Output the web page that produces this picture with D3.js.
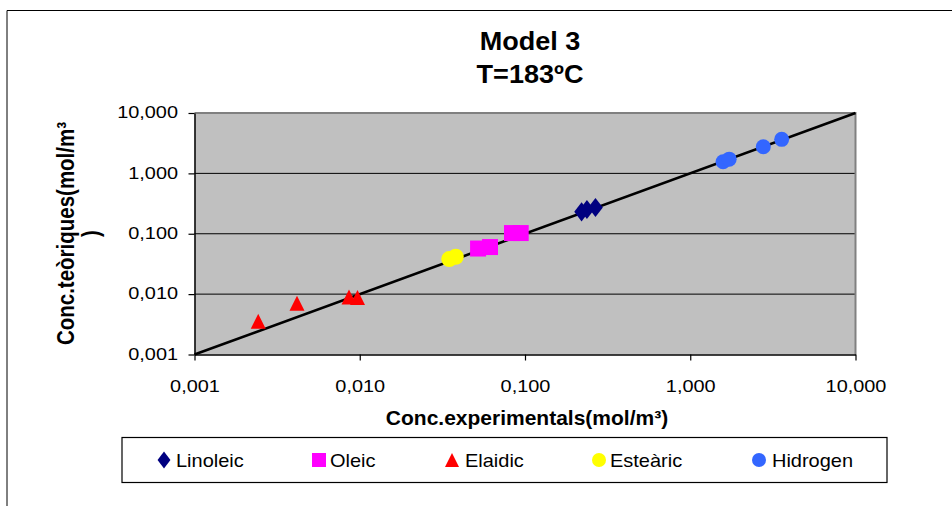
<!DOCTYPE html>
<html>
<head>
<meta charset="utf-8">
<script src="https://cdn.jsdelivr.net/npm/d3@7"></script>
<style>
  html, body { margin: 0; padding: 0; background: #ffffff; }
  svg { display: block; }
  text { font-family: "Liberation Sans", Arial, sans-serif; fill: #000; }
</style>
</head>
<body>
<svg id="chart" width="952" height="506"></svg>
<script>
// Axis ticks (log scale) and their printed labels
const tickValues = [0.001, 0.01, 0.1, 1, 10];
const tickLabels = ["0,001", "0,010", "0,100", "1,000", "10,000"];

// Series: experimental (x) vs theoretical (y) concentrations, mol/m³
const seriesNames = ["Linoleic", "Oleic", "Elaidic", "Esteàric", "Hidrogen"];
const linoleicX = [0.220, 0.237, 0.267];
const linoleicY = [0.231, 0.252, 0.272];
const oleicX = [0.052, 0.0614, 0.0834, 0.0942];
const oleicY = [0.0569, 0.0602, 0.1027, 0.1027];
const elaidicX = [0.00243, 0.00417, 0.00861, 0.00969];
const elaidicY = [0.00356, 0.00707, 0.00896, 0.0088];
const estearicX = [0.0348, 0.0381];
const estearicY = [0.0381, 0.0416];
const hidrogenX = [1.58, 1.72, 2.767, 3.575];
const hidrogenY = [1.56, 1.72, 2.757, 3.66];

// Reference line y = x across the full range
const refLine = [0.001, 10];

const colors = ["#000080", "#ff00ff", "#ff0000", "#ffff00", "#3366ff"];
const shapes = ["diamond", "square", "triangle", "circle", "circle"];
const xs = [linoleicX, oleicX, elaidicX, estearicX, hidrogenX];
const ys = [linoleicY, oleicY, elaidicY, estearicY, hidrogenY];

const svg = d3.select("#chart");

// Outer chart frame
svg.append("path")
  .attr("d", "M7,506 L7,10.5 L952,10.5")
  .attr("fill", "none").attr("stroke", "#000").attr("stroke-width", 1);

const plot = { left: 194.5, right: 855.5, top: 113, bottom: 354.5 };

const x = d3.scaleLog().domain([0.001, 10]).range([plot.left, plot.right]);
const y = d3.scaleLog().domain([0.001, 10]).range([plot.bottom, plot.top]);

// Plot area background
svg.append("rect")
  .attr("x", plot.left).attr("y", plot.top)
  .attr("width", plot.right - plot.left).attr("height", plot.bottom - plot.top)
  .attr("fill", "#c0c0c0");

// Horizontal gridlines at each decade
svg.append("g").selectAll("line")
  .data(tickValues.slice(1, -1))
  .join("line")
  .attr("x1", plot.left).attr("x2", plot.right)
  .attr("y1", d => y(d)).attr("y2", d => y(d))
  .attr("stroke", "#000").attr("stroke-width", 1);

// Plot border: grey top/right, black axes
svg.append("path")
  .attr("d", `M${plot.left},${plot.top} L${plot.right},${plot.top} L${plot.right},${plot.bottom}`)
  .attr("fill", "none").attr("stroke", "#808080").attr("stroke-width", 2);

function fmt(d) { return tickLabels[tickValues.indexOf(d)]; }

const xAxis = svg.append("g")
  .attr("transform", `translate(0,${plot.bottom})`)
  .call(d3.axisBottom(x).tickValues(tickValues).tickFormat(fmt).tickSize(6).tickSizeOuter(0));
const yAxis = svg.append("g")
  .attr("transform", `translate(${plot.left},0)`)
  .call(d3.axisLeft(y).tickValues(tickValues).tickFormat(fmt).tickSize(6).tickSizeOuter(0));

[xAxis, yAxis].forEach(a => {
  a.select(".domain").attr("stroke", "#000").attr("stroke-width", 1.5);
  a.selectAll(".tick line").attr("stroke", "#000").attr("stroke-width", 1.2);
  a.selectAll(".tick text").attr("font-size", 17).attr("font-family", "Liberation Sans, Arial, sans-serif").attr("fill", "#000");
});
// Tick labels are drawn slightly wide
xAxis.selectAll(".tick text")
  .attr("y", 0).attr("dy", 0)
  .attr("transform", "translate(0,37) scale(1.17,1)");
yAxis.selectAll(".tick text")
  .attr("x", 0).attr("dy", 0)
  .attr("transform", "translate(-16.5,4.8) scale(1.17,1)");

// Reference line
svg.append("line")
  .attr("x1", x(refLine[0])).attr("y1", y(refLine[0]))
  .attr("x2", x(refLine[1])).attr("y2", y(refLine[1]))
  .attr("stroke", "#000").attr("stroke-width", 2.6);

// Marker path generator
function markerPath(shape, s) {
  const h = s / 2;
  switch (shape) {
    case "diamond": {
      const w = s * 0.46, t = s * 0.6;
      return `M0,${-t} L${w},0 L0,${t} L${-w},0 Z`;
    }
    case "square":
      return `M${-h},${-h} H${h} V${h} H${-h} Z`;
    case "triangle":
      return `M0,${-h} L${h},${h} L${-h},${h} Z`;
    default:
      return d3.symbol(d3.symbolCircle, Math.PI * h * h)();
  }
}
const markerSize = [16, 16, 15, 16, 15];

seriesNames.forEach((name, i) => {
  const pts = xs[i].map((v, k) => [v, ys[i][k]]);
  svg.append("g").selectAll("path")
    .data(pts)
    .join("path")
    .attr("transform", d => `translate(${x(d[0])},${y(d[1])})`)
    .attr("d", markerPath(shapes[i], markerSize[i]))
    .attr("fill", colors[i]);
});

// Titles
const title = svg.append("g").attr("font-weight", "bold");
title.append("text").attr("text-anchor", "middle")
  .attr("transform", "translate(530,50) scale(1.04,1)")
  .attr("font-size", 26).attr("font-weight", "bold").text("Model 3");
title.append("text").attr("text-anchor", "middle")
  .attr("transform", "translate(530,83) scale(1.04,1)")
  .attr("font-size", 26).attr("font-weight", "bold").text("T=183ºC");

svg.append("text").attr("text-anchor", "middle")
  .attr("transform", "translate(527,425) scale(1.05,1)")
  .attr("font-size", 20).attr("font-weight", "bold")
  .text("Conc.experimentals(mol/m³)");

const yTitle = svg.append("g").attr("transform", "translate(74,233.5) rotate(-90) scale(1,1.15)");
yTitle.append("text").attr("text-anchor", "middle")
  .attr("font-size", 20.5).attr("font-weight", "bold")
  .text("Conc.teòriques(mol/m³");
yTitle.append("text").attr("text-anchor", "middle").attr("y", 22)
  .attr("font-size", 20.5).attr("font-weight", "bold")
  .text(")");

// Legend
svg.append("rect")
  .attr("x", 122).attr("y", 437.5).attr("width", 765).attr("height", 45)
  .attr("fill", "#fff").attr("stroke", "#000").attr("stroke-width", 1.2);

const legendMarkX = [164, 319, 452, 599, 759];
const legendTextX = [176, 330, 465, 610, 772];
const legendShapeSize = [14, 14, 14, 14, 14];
seriesNames.forEach((name, i) => {
  svg.append("path")
    .attr("transform", `translate(${legendMarkX[i]},460)`)
    .attr("d", markerPath(shapes[i], legendShapeSize[i]))
    .attr("fill", colors[i]);
  svg.append("text")
    .attr("transform", `translate(${legendTextX[i]},467) scale(1.11,1)`)
    .attr("font-size", 18).text(name);
});
</script>
</body>
</html>
